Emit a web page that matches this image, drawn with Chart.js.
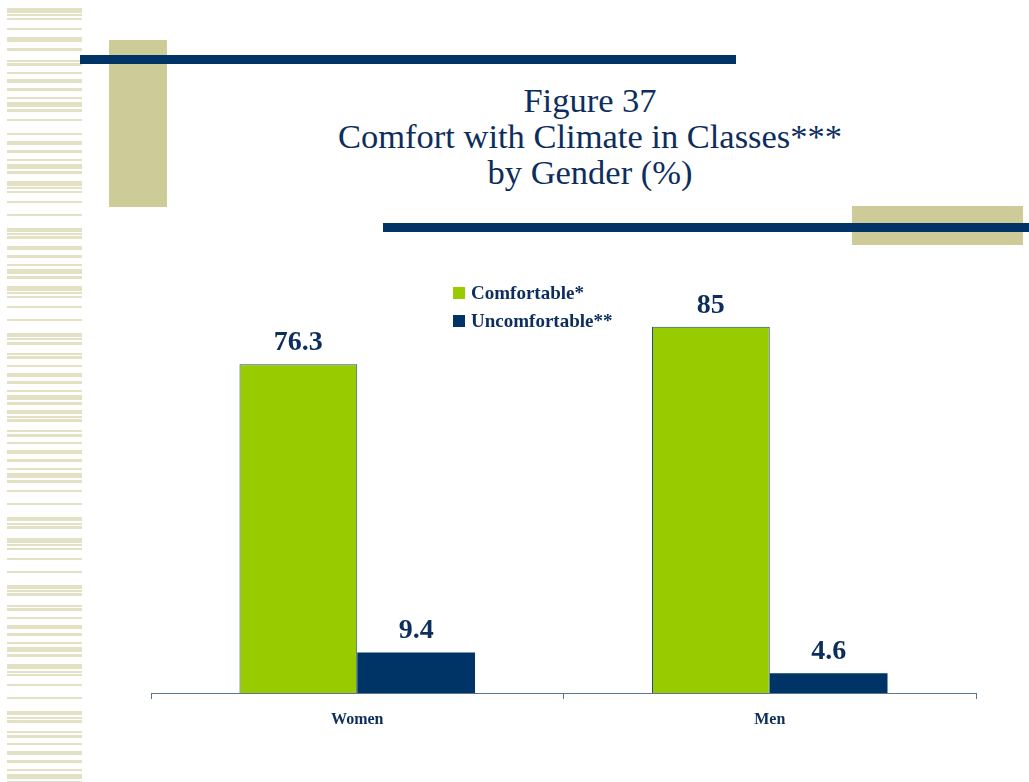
<!DOCTYPE html>
<html>
<head>
<meta charset="utf-8">
<title>Figure 37</title>
<script src="https://cdn.jsdelivr.net/npm/chart.js@4.4.1/dist/chart.umd.min.js"></script>
<style>
  body { margin:0; background:#fff; }
  #page { position:relative; width:1029px; height:782px; overflow:hidden; }
  .stripe { position:absolute; left:7px; width:75px; background:#e2e1c4; }
  .block { position:absolute; background:#cdcc99; }
  .rule { position:absolute; background:#003366; height:9px; }
  #title { position:absolute; left:290px; width:600px; top:82px; text-align:center;
           font-family:"Liberation Serif","Times New Roman",serif; font-size:34.5px;
           line-height:36px; color:#0d2e5c; }
  #chart { position:absolute; left:0; top:0; }
</style>
</head>
<body>
<div id="page">
  <div id="stripes"></div>
  <div class="block" style="left:109px;top:40px;width:58px;height:167px"></div>
  <div class="block" style="left:852px;top:206px;width:171px;height:39px"></div>
  <div class="rule" style="left:80px;top:55px;width:656px"></div>
  <div class="rule" style="left:383px;top:223px;width:646px"></div>
  <div id="title">Figure 37<br>Comfort with Climate in Classes***<br>by Gender (%)</div>
  <canvas id="chart" width="1029" height="782"></canvas>
</div>
<script>
// chart values
var genders = ["Women", "Men"];
var comfortable = [76.3, 85];
var uncomfortable = [9.4, 4.6];
var seriesNames = ["Comfortable*", "Uncomfortable**"];

// left margin bands: [top, height]
var bands = [[8,5],[14,2],[18,2],[28,2],[37,5],[48,3],[60,2],[63,3],[72,2],[79,4],[88,3],[97,2],
  [102,5],[109,3],[119,2],[133,2],[141,4],[150,3],[159,2],[164,5],[171,3],[181,5],[187,2],[191,2],
  [201,2],[214,2],[228,4],[233,2],[236,3],[246,4],[255,3],[264,2],[269,5],[276,3],[286,5],[292,2],
  [296,2],[306,2],[319,2],[333,4],[338,2],[342,3],[353,2],[356,3],[365,2],[373,4],[381,3],[390,2],
  [395,5],[402,3],[410,4],[416,2],[419,3],[430,2],[434,3],[442,2],[450,4],[459,3],[468,2],[473,5],
  [480,3],[490,2],[503,2],[517,4],[523,2],[526,3],[538,5],[544,2],[548,2],[558,2],[571,2],[585,4],
  [590,2],[593,3],[605,2],[608,3],[617,2],[625,4],[633,3],[642,2],[647,5],[654,3],[664,5],[671,2],
  [674,2],[684,2],[697,2],[711,4],[717,2],[720,3],[731,2],[735,3],[743,2],[751,4],[760,3],[769,2],
  [774,5],[781,2]];

var html = "";
for (var i = 0; i < bands.length; i++) {
  html += '<div class="stripe" style="top:' + bands[i][0] + 'px;height:' + bands[i][1] + 'px"></div>';
}
document.getElementById("stripes").innerHTML = html;

var navy = "#003366";
var serif = "'Liberation Serif','Times New Roman',serif";

// numbers above each bar
var valueLabels = {
  id: "valueLabels",
  afterDatasetsDraw: function(chart) {
    var ctx = chart.ctx;
    ctx.save();
    ctx.font = "bold 28px " + serif;
    ctx.fillStyle = "#0d2e5c";
    ctx.textAlign = "center";
    ctx.textBaseline = "alphabetic";
    chart.data.datasets.forEach(function(ds, di) {
      chart.getDatasetMeta(di).data.forEach(function(bar, j) {
        ctx.fillText(String(ds.data[j]), bar.x, bar.y - 14);
      });
    });
    ctx.restore();
  }
};

// small legend inside the plot
var boxLegend = {
  id: "boxLegend",
  afterDraw: function(chart) {
    var ctx = chart.ctx;
    ctx.save();
    ctx.font = "bold 19px " + serif;
    ctx.textBaseline = "middle";
    chart.data.datasets.forEach(function(ds, i) {
      var y = 293 + i * 28;
      ctx.fillStyle = ds.backgroundColor;
      ctx.fillRect(453, y - 6, 12, 12);
      ctx.fillStyle = "#0d2e5c";
      ctx.fillText(ds.label, 471, y + 1);
    });
    ctx.restore();
  }
};

new Chart(document.getElementById("chart"), {
  type: "bar",
  data: {
    labels: genders,
    datasets: [
      { label: seriesNames[0], data: comfortable, backgroundColor: "#99cc00",
        borderColor: "#1f4e79", borderWidth: 1, borderSkipped: "bottom" },
      { label: seriesNames[1], data: uncomfortable, backgroundColor: navy,
        borderWidth: 0 }
    ]
  },
  options: {
    responsive: false,
    animation: false,
    layout: { padding: { left: 151, right: 53, top: 262, bottom: 49 } },
    plugins: { legend: { display: false }, title: { display: false }, tooltip: { enabled: false } },
    datasets: { bar: { categoryPercentage: 0.571, barPercentage: 1 } },
    scales: {
      y: { display: false, min: 0, max: 100 },
      x: {
        afterFit: function(scale) { scale.height = 40; },
        border: { color: "#5a7590", width: 1 },
        grid: { drawOnChartArea: false, tickLength: 6, color: "#5a7590", offset: true },
        ticks: { color: "#0d2e5c", padding: 11, font: { family: serif, size: 16, weight: "bold" } }
      }
    }
  },
  plugins: [valueLabels, boxLegend]
});
</script>
</body>
</html>
